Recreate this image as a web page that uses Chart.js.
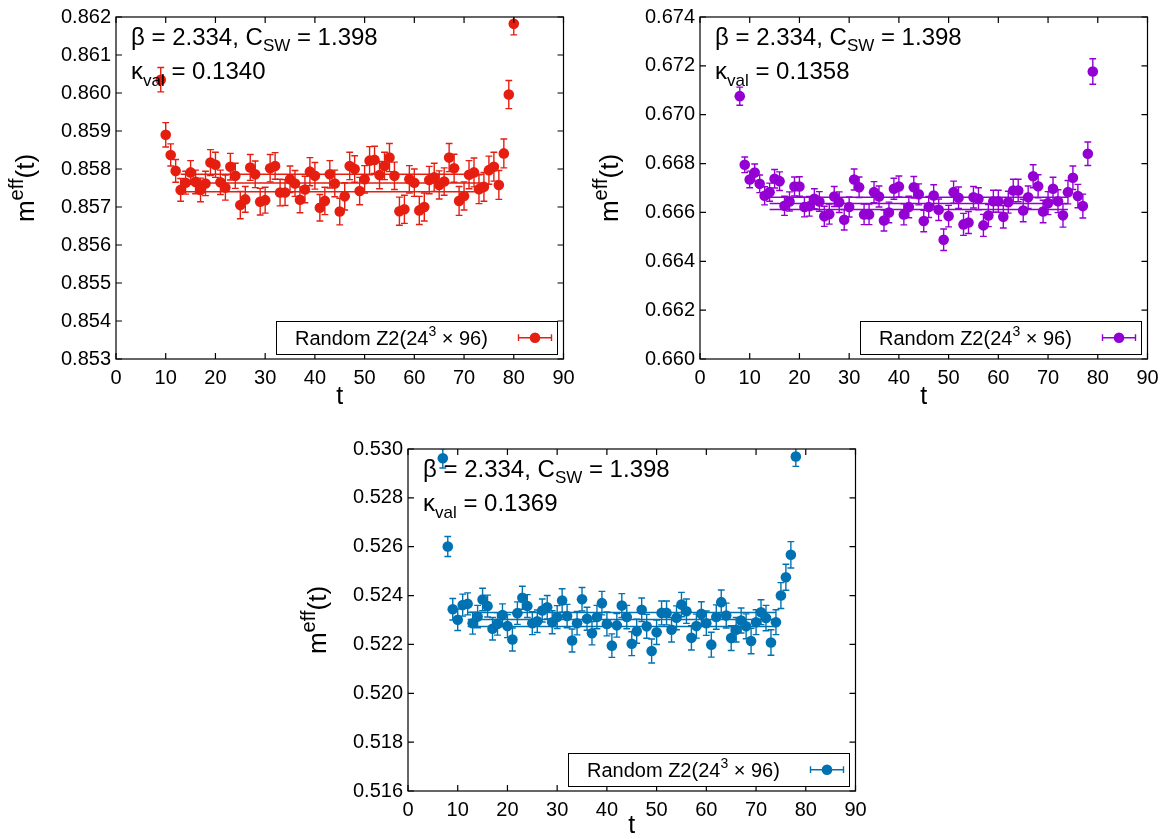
<!DOCTYPE html>
<html>
<head>
<meta charset="utf-8">
<script src="https://cdn.jsdelivr.net/npm/chart.js@4.4.1/dist/chart.umd.min.js"></script>
<style>
  html, body { margin: 0; padding: 0; background: #fff; width: 1169px; height: 839px; overflow: hidden; }
  .panel { position: absolute; }
</style>
</head>
<body>
<canvas id="cA" class="panel" width="584" height="410" style="left:0;top:0"></canvas>
<canvas id="cB" class="panel" width="585" height="410" style="left:584px;top:0"></canvas>
<canvas id="cC" class="panel" width="584" height="407" style="left:292px;top:432px"></canvas>
<script>
// ---- effective mass m_eff(t), kappa_val = 0.1340 ----
const t_k1340 = [9,10,11,12,13,14,15,16,17,18,19,20,21,22,23,24,25,26,27,28,29,30,31,32,33,34,35,36,37,38,39,40,41,42,43,44,
  45,46,47,48,49,50,51,52,53,54,55,56,57,58,59,60,61,62,63,64,65,66,67,68,69,70,71,72,73,74,75,76,77,78,79,80];
const meff_k1340 = [0.86035,0.85890,0.85837,0.85795,0.85745,0.85764,0.85791,0.85766,0.85745,0.85762,0.85817,0.85811,
  0.85765,0.85751,0.85806,0.85782,0.85705,0.85720,0.85804,0.85786,0.85714,0.85718,0.85802,0.85808,0.85738,0.85738,
  0.85773,0.85762,0.85719,0.85746,0.85793,0.85782,0.85698,0.85716,0.85786,0.85762,0.85688,0.85728,0.85808,0.85800,
  0.85742,0.85773,0.85822,0.85824,0.85784,0.85808,0.85830,0.85782,0.85689,0.85694,0.85773,0.85764,0.85691,0.85700,
  0.85771,0.85778,0.85758,0.85767,0.85830,0.85802,0.85716,0.85729,0.85785,0.85791,0.85747,0.85753,0.85797,0.85806,
  0.85758,0.85841,0.85996,0.86182];
const err_k1340 = [0.00032,0.00032,0.00029,0.00030,0.00030,0.00030,0.00031,0.00031,0.00031,0.00032,0.00034,0.00033,
  0.00032,0.00033,0.00035,0.00033,0.00036,0.00034,0.00034,0.00035,0.00035,0.00034,0.00036,0.00035,0.00035,0.00034,
  0.00035,0.00034,0.00034,0.00035,0.00037,0.00035,0.00035,0.00036,0.00036,0.00035,0.00035,0.00036,0.00036,0.00035,
  0.00036,0.00036,0.00037,0.00036,0.00036,0.00036,0.00037,0.00036,0.00037,0.00037,0.00036,0.00036,0.00037,0.00037,
  0.00036,0.00037,0.00037,0.00036,0.00037,0.00037,0.00038,0.00037,0.00037,0.00038,0.00038,0.00038,0.00037,0.00038,
  0.00038,0.00038,0.00037,0.00029];
const fit_k1340 = [0.85763, 0.00023];   // plateau value, error
const fitRange_k1340 = [13, 74];

// ---- kappa_val = 0.1358 ----
const t_k1358 = [8,9,10,11,12,13,14,15,16,17,18,19,20,21,22,23,24,25,26,27,28,29,30,31,32,33,34,35,36,37,38,39,40,41,42,43,
  44,45,46,47,48,49,50,51,52,53,54,55,56,57,58,59,60,61,62,63,64,65,66,67,68,69,70,71,72,73,74,75,76,77,78,79];
const meff_k1358 = [0.67076,0.66795,0.66735,0.66763,0.66717,0.66668,0.66683,0.66738,0.66728,0.66627,0.66645,0.66706,
  0.66706,0.66622,0.66625,0.66656,0.66645,0.66584,0.66593,0.66665,0.66642,0.66570,0.66622,0.66735,0.66703,0.66592,
  0.66592,0.66683,0.66665,0.66567,0.66600,0.66697,0.66706,0.66592,0.66622,0.66703,0.66674,0.66565,0.66622,0.66669,
  0.66611,0.66488,0.66585,0.66683,0.66660,0.66551,0.66559,0.66662,0.66656,0.66547,0.66587,0.66646,0.66646,0.66582,
  0.66642,0.66690,0.66690,0.66608,0.66662,0.66748,0.66707,0.66604,0.66638,0.66697,0.66646,0.66588,0.66683,0.66742,
  0.66667,0.66626,0.66840,0.67177];
const err_k1358 = [0.00037,0.00032,0.00034,0.00035,0.00036,0.00037,0.00037,0.00038,0.00038,0.00039,0.00039,0.00039,
  0.00040,0.00040,0.00040,0.00041,0.00040,0.00041,0.00041,0.00041,0.00042,0.00042,0.00041,0.00043,0.00042,0.00042,
  0.00042,0.00043,0.00043,0.00043,0.00042,0.00043,0.00043,0.00043,0.00044,0.00044,0.00043,0.00044,0.00043,0.00044,
  0.00044,0.00044,0.00044,0.00045,0.00044,0.00045,0.00045,0.00044,0.00045,0.00045,0.00045,0.00045,0.00045,0.00046,
  0.00045,0.00046,0.00046,0.00046,0.00046,0.00047,0.00047,0.00046,0.00047,0.00047,0.00047,0.00048,0.00048,0.00048,
  0.00048,0.00049,0.00048,0.00052];
const fit_k1358 = [0.66637, 0.00025];
const fitRange_k1358 = [14, 74];

// ---- kappa_val = 0.1369 ----
const t_k1369 = [7,8,9,10,11,12,13,14,15,16,17,18,19,20,21,22,23,24,25,26,27,28,29,30,31,32,33,34,35,36,37,38,39,40,41,42,
  43,44,45,46,47,48,49,50,51,52,53,54,55,56,57,58,59,60,61,62,63,64,65,66,67,68,69,70,71,72,73,74,75,76,77,78];
const meff_k1369 = [0.52962,0.52601,0.52344,0.52301,0.52361,0.52366,0.52287,0.52314,0.52384,0.52357,0.52264,0.52284,
  0.52320,0.52275,0.52220,0.52328,0.52391,0.52357,0.52287,0.52295,0.52339,0.52352,0.52291,0.52312,0.52380,0.52316,
  0.52216,0.52287,0.52385,0.52305,0.52246,0.52312,0.52369,0.52284,0.52195,0.52278,0.52359,0.52312,0.52203,0.52254,
  0.52342,0.52274,0.52173,0.52250,0.52329,0.52329,0.52260,0.52309,0.52363,0.52336,0.52227,0.52275,0.52325,0.52287,
  0.52199,0.52312,0.52373,0.52318,0.52226,0.52260,0.52298,0.52274,0.52214,0.52291,0.52332,0.52308,0.52208,0.52291,
  0.52400,0.52475,0.52567,0.52969];
const err_k1369 = [0.00040,0.00041,0.00044,0.00044,0.00045,0.00045,0.00045,0.00046,0.00046,0.00045,0.00046,0.00046,
  0.00046,0.00047,0.00047,0.00046,0.00047,0.00047,0.00047,0.00046,0.00047,0.00048,0.00047,0.00047,0.00048,0.00048,
  0.00047,0.00048,0.00048,0.00047,0.00048,0.00048,0.00048,0.00049,0.00048,0.00048,0.00049,0.00048,0.00049,0.00049,
  0.00048,0.00049,0.00049,0.00050,0.00049,0.00049,0.00050,0.00049,0.00050,0.00050,0.00050,0.00049,0.00050,0.00050,
  0.00051,0.00050,0.00050,0.00051,0.00051,0.00050,0.00051,0.00051,0.00052,0.00051,0.00051,0.00052,0.00052,0.00051,
  0.00053,0.00053,0.00054,0.00040];
const fit_k1369 = [0.52302, 0.00029];
const fitRange_k1369 = [12, 74];

// ---- shared axis ticks ----
const tTicks = [0, 10, 20, 30, 40, 50, 60, 70, 80, 90];

const FAMILY = '"Liberation Sans", Arial, Helvetica, sans-serif';
const MARK_R = 5.3;

// draws text pieces one after another; each piece is [text, fontSize, baselineShift]
function drawRich(ctx, x, y, parts, measureOnly) {
  let cx = x;
  for (const [txt, size, dy] of parts) {
    ctx.font = size + 'px ' + FAMILY;
    if (!measureOnly) ctx.fillText(txt, cx, y + dy);
    cx += ctx.measureText(txt).width;
  }
  return cx - x;
}

// error bars, frame, inward tick marks, labels and key
const decor = {
  id: 'decor',
  beforeDatasetDraw(chart, args, opts) {
    if (args.index !== 0) return;
    const ds = chart.data.datasets[0];
    const xs = chart.scales.x, ys = chart.scales.y, a = chart.chartArea, ctx = chart.ctx;
    ctx.save();
    ctx.beginPath();
    ctx.rect(a.left, a.top, a.right - a.left, a.bottom - a.top);
    ctx.clip();
    ctx.strokeStyle = opts.color;
    ctx.lineWidth = 1.4;
    ds.data.forEach(p => {
      const px = xs.getPixelForValue(p.x);
      const y1 = ys.getPixelForValue(p.y + p.e);
      const y2 = ys.getPixelForValue(p.y - p.e);
      ctx.beginPath();
      ctx.moveTo(px, y1); ctx.lineTo(px, y2);
      ctx.moveTo(px - 3.4, y1); ctx.lineTo(px + 3.4, y1);
      ctx.moveTo(px - 3.4, y2); ctx.lineTo(px + 3.4, y2);
      ctx.stroke();
    });
    ctx.restore();
  },
  afterDraw(chart, args, opts) {
    const ctx = chart.ctx, a = chart.chartArea;
    const xs = chart.scales.x, ys = chart.scales.y;
    ctx.save();
    // frame
    ctx.strokeStyle = '#000';
    ctx.lineWidth = 1.2;
    ctx.strokeRect(a.left, a.top, a.right - a.left, a.bottom - a.top);
    // tick marks pointing into the plot on all four sides
    const TL = 6;
    ctx.beginPath();
    xs.ticks.forEach(tk => {
      const px = xs.getPixelForValue(tk.value);
      ctx.moveTo(px, a.bottom); ctx.lineTo(px, a.bottom - TL);
      ctx.moveTo(px, a.top); ctx.lineTo(px, a.top + TL);
    });
    ys.ticks.forEach(tk => {
      const py = ys.getPixelForValue(tk.value);
      ctx.moveTo(a.left, py); ctx.lineTo(a.left + TL, py);
      ctx.moveTo(a.right, py); ctx.lineTo(a.right - TL, py);
    });
    ctx.stroke();

    ctx.fillStyle = '#000';
    ctx.textBaseline = 'alphabetic';
    ctx.textAlign = 'left';
    // parameter labels
    drawRich(ctx, a.left + 15, 45, [['\u03B2 = 2.334, C', 24, 0], ['SW', 17, 6], [' = 1.398', 24, 0]]);
    drawRich(ctx, a.left + 15, 78.5, [['\u03BA', 24, 0], ['val', 17, 7], [' = ' + opts.kappa, 24, 0]]);

    // y-axis title m^eff(t), rotated
    const yParts = [['m', 26, 0], ['eff', 20, -11], ['(t)', 26, 0]];
    const w = drawRich(ctx, 0, 0, yParts, true);
    ctx.save();
    ctx.translate(34, (a.top + a.bottom) / 2);
    ctx.rotate(-Math.PI / 2);
    drawRich(ctx, -w / 2, 0, yParts);
    ctx.restore();

    // key
    const kx = a.left + 160.5, ky = a.bottom - 37.5, kw = 281, kh = 33;
    ctx.fillStyle = '#fff';
    ctx.fillRect(kx, ky, kw, kh);
    ctx.strokeStyle = '#000';
    ctx.lineWidth = 1;
    ctx.strokeRect(kx, ky, kw, kh);
    ctx.fillStyle = '#000';
    drawRich(ctx, kx + 18.5, ky + 23.5, [['Random Z2(24', 20, 0], ['3', 14, -9], [' \u00D7 96)', 20, 0]]);
    const sx = kx + 258.5, sy = ky + 16.2;
    ctx.strokeStyle = opts.color;
    ctx.lineWidth = 1.4;
    ctx.beginPath();
    ctx.moveTo(sx - 16.5, sy); ctx.lineTo(sx + 16.5, sy);
    ctx.moveTo(sx - 16.5, sy - 3.4); ctx.lineTo(sx - 16.5, sy + 3.4);
    ctx.moveTo(sx + 16.5, sy - 3.4); ctx.lineTo(sx + 16.5, sy + 3.4);
    ctx.stroke();
    ctx.fillStyle = opts.color;
    ctx.beginPath();
    ctx.arc(sx, sy, MARK_R, 0, Math.PI * 2);
    ctx.fill();
    ctx.restore();
  }
};
Chart.register(decor);

function makePanel(id, cfg) {
  const canvas = document.getElementById(id);
  const W = canvas.width, H = canvas.height;
  const pts = cfg.t.map((t, i) => ({ x: t, y: cfg.m[i], e: cfg.e[i] }));
  const [c, dc] = cfg.fit;
  const [t0, t1] = cfg.range;
  const fitLine = v => ({
    data: [{ x: t0, y: v }, { x: t1, y: v }],
    showLine: true, pointRadius: 0, borderColor: cfg.color, borderWidth: 1.5, order: 2
  });
  new Chart(canvas, {
    type: 'scatter',
    data: {
      datasets: [
        { data: pts, pointRadius: MARK_R, pointHoverRadius: MARK_R, backgroundColor: cfg.color, borderWidth: 0, order: 1 },
        fitLine(c + dc), fitLine(c), fitLine(c - dc)
      ]
    },
    options: {
      responsive: false,
      animation: false,
      events: [],
      layout: { padding: { left: 0, top: 16, right: W - 116 - 447.5, bottom: 0 } },
      plugins: {
        legend: { display: false },
        tooltip: { enabled: false },
        decor: { color: cfg.color, kappa: cfg.kappa }
      },
      scales: {
        x: {
          type: 'linear', min: 0, max: 90,
          afterBuildTicks: s => { s.ticks = tTicks.map(v => ({ value: v })); },
          ticks: { color: '#000', font: { family: FAMILY, size: 20 }, padding: 7, maxRotation: 0, autoSkip: false },
          grid: { display: false, drawTicks: false },
          border: { display: false },
          title: { display: true, text: 't', color: '#000', font: { family: FAMILY, size: 25, lineHeight: 1 }, padding: { top: 0, bottom: 0 } },
          afterFit: s => { s.height = H - 359; }
        },
        y: {
          type: 'linear', min: cfg.yMin, max: cfg.yMax,
          afterBuildTicks: s => { s.ticks = cfg.yTicks.map(v => ({ value: v })); },
          ticks: { color: '#000', font: { family: FAMILY, size: 20 }, padding: 5, callback: v => v.toFixed(3) },
          grid: { display: false, drawTicks: false },
          border: { display: false },
          afterFit: s => { s.width = 116; }
        }
      }
    }
  });
}

makePanel('cA', {
  t: t_k1340, m: meff_k1340, e: err_k1340, fit: fit_k1340, range: fitRange_k1340,
  color: '#e51e10', kappa: '0.1340', yMin: 0.853, yMax: 0.862,
  yTicks: [0.853, 0.854, 0.855, 0.856, 0.857, 0.858, 0.859, 0.860, 0.861, 0.862]
});
makePanel('cB', {
  t: t_k1358, m: meff_k1358, e: err_k1358, fit: fit_k1358, range: fitRange_k1358,
  color: '#9400d3', kappa: '0.1358', yMin: 0.660, yMax: 0.674,
  yTicks: [0.660, 0.662, 0.664, 0.666, 0.668, 0.670, 0.672, 0.674]
});
makePanel('cC', {
  t: t_k1369, m: meff_k1369, e: err_k1369, fit: fit_k1369, range: fitRange_k1369,
  color: '#0072b2', kappa: '0.1369', yMin: 0.516, yMax: 0.530,
  yTicks: [0.516, 0.518, 0.520, 0.522, 0.524, 0.526, 0.528, 0.530]
});
</script>
</body>
</html>
